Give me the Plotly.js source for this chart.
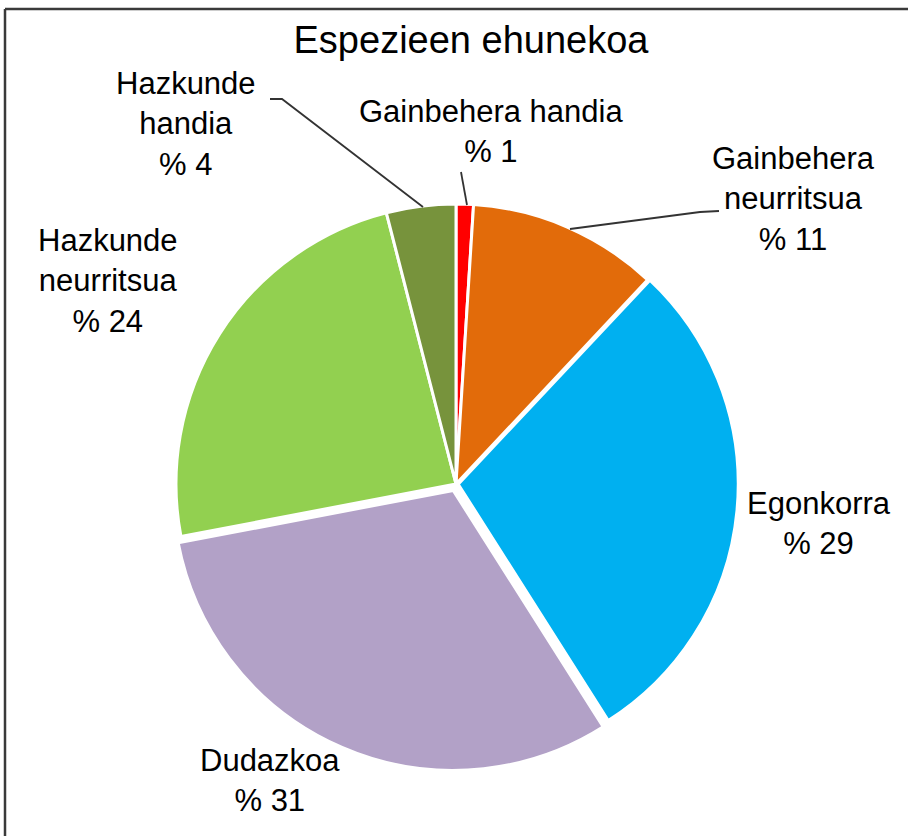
<!DOCTYPE html>
<html>
<head>
<meta charset="utf-8">
<script src="https://cdn.plot.ly/plotly-3.0.1.min.js"></script>
<style>html,body{margin:0;padding:0;background:#fff;}#chart{width:908px;height:836px;}</style>
</head>
<body>
<div id="chart"></div>
<script>
// ---- data ----
const categories = ["Gainbehera handia", "Gainbehera neurritsua", "Egonkorra", "Dudazkoa", "Hazkunde neurritsua", "Hazkunde handia"];
const labelLines = ["Gainbehera handia", "Gainbehera<br>neurritsua", "Egonkorra", "Dudazkoa", "Hazkunde<br>neurritsua", "Hazkunde<br>handia"];
const percentages = [1, 11, 29, 31, 24, 4];
const sliceColors = ["#FF0000", "#E26B0A", "#00B0F0", "#B2A1C7", "#92D050", "#77933C"];
const pulls = [0, 0, 0.008, 0.025, 0, 0];
const chartTitle = "Espezieen ehunekoa";

// ---- layout helpers (pixel -> paper) ----
const W = 908, H = 836;
const px = x => x / W;
const py = y => 1 - y / H;

// pie geometry
const cx = 456, cy = 484, r = 280;
const maxPull = Math.max(...pulls);
const half = r * (1 + maxPull);

// label positions (pixel centers)
const labelPos = [
  [491, 131],
  [793, 199],
  [819, 523],
  [270, 780],
  [108, 281],
  [186, 124]
];

const annotations = categories.map((c, i) => ({
  xref: 'paper', yref: 'paper',
  x: px(labelPos[i][0]), y: py(labelPos[i][1]),
  xanchor: 'center', yanchor: 'middle',
  text: labelLines[i] + '<br>% ' + percentages[i],
  showarrow: false,
  font: {family: 'Liberation Sans, Arial, sans-serif', size: 31, color: '#000'},
  align: 'center'
}));

function path(pts) {
  return pts.map((p, i) => (i ? 'L' : 'M') + px(p[0]) + ',' + py(p[1])).join(' ');
}
const lineStyle = {color: '#333333', width: 1.8};
const shapes = [
  {type: 'path', xref: 'paper', yref: 'paper', path: path([[270, 99], [282, 99], [423, 207]]), line: lineStyle},
  {type: 'path', xref: 'paper', yref: 'paper', path: path([[461, 172], [467, 205]]), line: lineStyle},
  {type: 'path', xref: 'paper', yref: 'paper', path: path([[570, 229], [700, 212], [719, 211]]), line: lineStyle},
  // frame
  {type: 'line', xref: 'paper', yref: 'paper', x0: px(5), x1: px(908), y0: py(9), y1: py(9), line: {color: '#3a3a3a', width: 2.5}},
  {type: 'line', xref: 'paper', yref: 'paper', x0: px(5), x1: px(5), y0: py(9), y1: py(836), line: {color: '#3a3a3a', width: 2.5}}
];

const trace = {
  type: 'pie',
  labels: categories,
  values: percentages,
  marker: {colors: sliceColors, line: {color: '#ffffff', width: 3}},
  pull: pulls,
  sort: false,
  direction: 'clockwise',
  rotation: 0,
  textinfo: 'none',
  hoverinfo: 'label+percent',
  showlegend: false,
  domain: {x: [px(cx - half), px(cx + half)], y: [py(cy + half), py(cy - half)]}
};

const layout = {
  width: W, height: H,
  margin: {l: 0, r: 0, t: 0, b: 0},
  paper_bgcolor: '#ffffff',
  title: {
    text: chartTitle,
    font: {family: 'Liberation Sans, Arial, sans-serif', size: 38, color: '#000'},
    x: px(471), xanchor: 'center', xref: 'container',
    y: py(40), yanchor: 'middle', yref: 'container'
  },
  showlegend: false,
  annotations: annotations,
  shapes: shapes
};

Plotly.newPlot('chart', [trace], layout, {displayModeBar: false, staticPlot: true});
</script>
</body>
</html>
